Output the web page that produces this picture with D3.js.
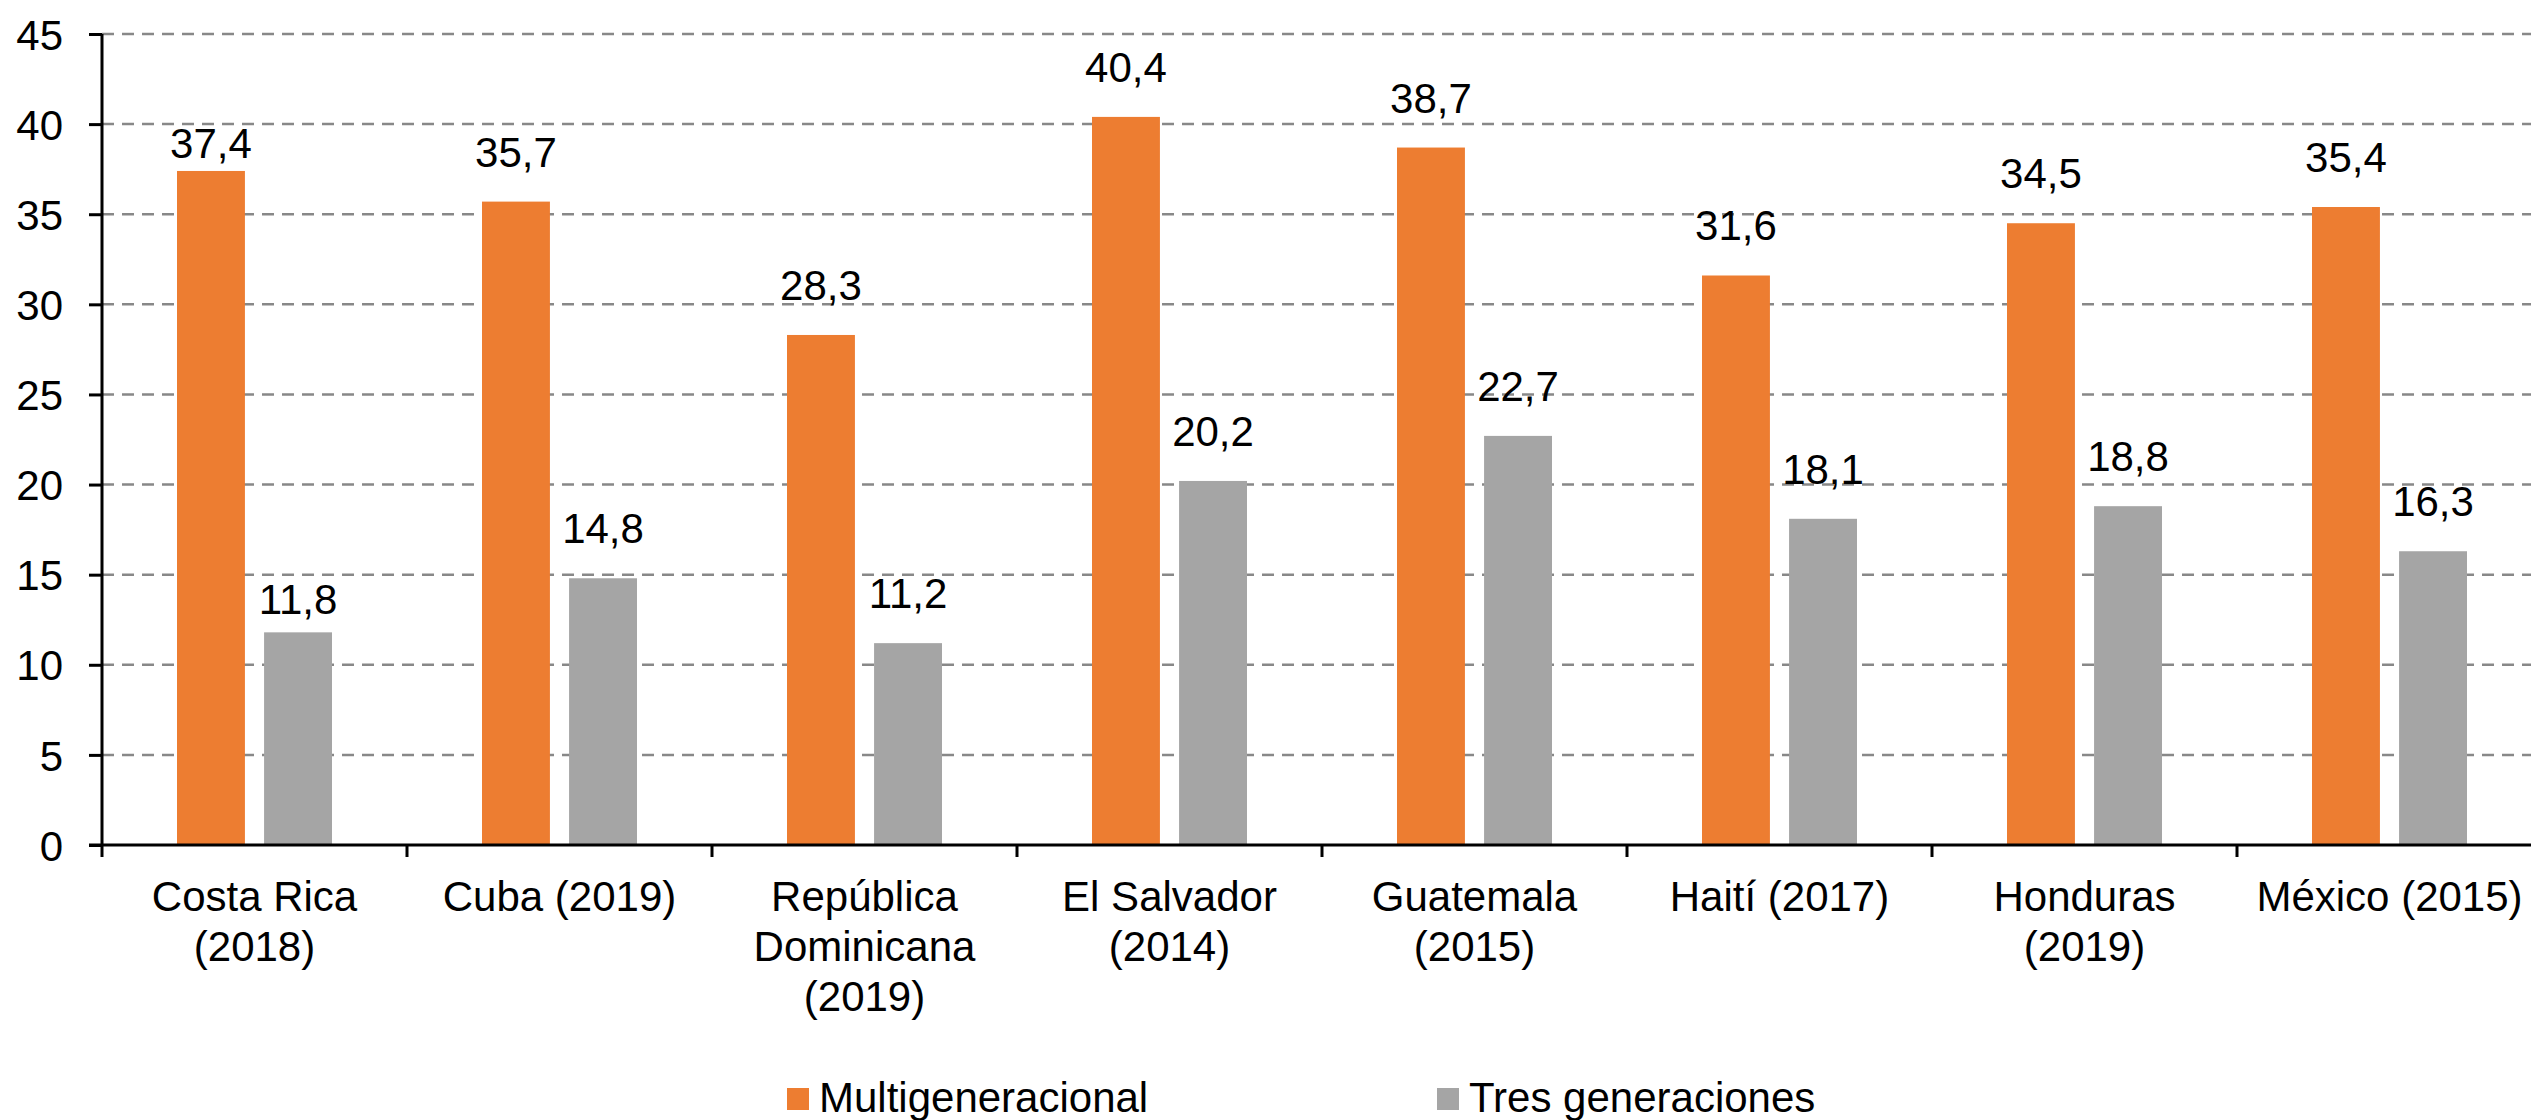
<!DOCTYPE html>
<html>
<head>
<meta charset="utf-8">
<script src="https://cdn.jsdelivr.net/npm/d3@7"></script>
<style>
  html, body { margin: 0; padding: 0; background: #fff; overflow: hidden; }
  svg { display: block; font-family: "Liberation Sans", Arial, sans-serif; }
</style>
</head>
<body>
<svg id="chart" width="2531" height="1120"></svg>
<script>
const categories = [
  ["Costa Rica", "(2018)"],
  ["Cuba (2019)"],
  ["República", "Dominicana", "(2019)"],
  ["El Salvador", "(2014)"],
  ["Guatemala", "(2015)"],
  ["Haití (2017)"],
  ["Honduras", "(2019)"],
  ["México (2015)"]
];
const seriesNames = ["Multigeneracional", "Tres generaciones"];
const multigeneracional = [37.4, 35.7, 28.3, 40.4, 38.7, 31.6, 34.5, 35.4];
const tresGeneraciones = [11.8, 14.8, 11.2, 20.2, 22.7, 18.1, 18.8, 16.3];
const yTicks = [0, 5, 10, 15, 20, 25, 30, 35, 40, 45];
const colors = ["#ED7D31", "#A5A5A5"];

(function () {
const svg = d3.select("#chart");
const W = 2531;
const plotLeft = 102, bandW = 305, plotTop = 34, plotBottom = 845;
const plotRight = plotLeft + bandW * categories.length;
const FS = 42;
// label gap (baseline above bar top); the first group's labels sit closer in the original
const defaultGap = 35;
const gapOverride = { "0-0": 13, "0-1": 18 };

const catKeys = categories.map(c => c.join(" "));
const x = d3.scaleBand().domain(catKeys).range([plotLeft, plotRight]).paddingInner(0).paddingOuter(0);
const y = d3.scaleLinear().domain([0, 45]).range([plotBottom, plotTop]);
const inner = d3.scaleBand().domain(seriesNames).range([75, bandW - 75]).paddingInner(0.22);

// gridlines
svg.append("g").selectAll("line").data(yTicks.filter(t => t > 0)).join("line")
  .attr("x1", plotLeft).attr("x2", W)
  .attr("y1", d => y(d)).attr("y2", d => y(d))
  .attr("stroke", "#888888").attr("stroke-width", 2.5)
  .attr("stroke-dasharray", "12 8");

// bars
const data = [multigeneracional, tresGeneraciones];
const g = svg.append("g");
catKeys.forEach((k, i) => {
  seriesNames.forEach((s, j) => {
    const v = data[j][i];
    const bx = x(k) + inner(s);
    const gap = gapOverride[i + "-" + j] !== undefined ? gapOverride[i + "-" + j] : defaultGap;
    g.append("rect")
      .attr("x", bx).attr("y", y(v))
      .attr("width", inner.bandwidth()).attr("height", y(0) - y(v))
      .attr("fill", colors[j]);
    g.append("text")
      .attr("x", bx + inner.bandwidth() / 2).attr("y", y(v) - gap)
      .attr("text-anchor", "middle").attr("font-size", FS).attr("fill", "#000")
      .text(v.toFixed(1).replace(".", ","));
  });
});

// y axis
const yAxis = svg.append("g").attr("transform", `translate(${plotLeft},0)`)
  .call(d3.axisLeft(y).tickValues(yTicks).tickSize(13).tickPadding(26));
yAxis.select(".domain").attr("stroke", "#000").attr("stroke-width", 3)
  .attr("d", `M0,${plotBottom}V${plotTop}`);
yAxis.selectAll(".tick line").attr("stroke", "#000").attr("stroke-width", 3);
yAxis.selectAll(".tick text").attr("font-size", FS).attr("fill", "#000")
  .attr("font-family", "Liberation Sans, Arial, sans-serif").attr("dy", "0.36em");

// x axis
const xTickPos = d3.range(categories.length + 1).map(i => plotLeft + i * bandW);
const xAxis = svg.append("g");
xAxis.append("line").attr("x1", plotLeft - 13).attr("x2", W)
  .attr("y1", plotBottom).attr("y2", plotBottom).attr("stroke", "#000").attr("stroke-width", 3);
xAxis.selectAll("line.t").data(xTickPos).join("line").attr("class", "t")
  .attr("x1", d => d).attr("x2", d => d)
  .attr("y1", plotBottom).attr("y2", plotBottom + 12)
  .attr("stroke", "#000").attr("stroke-width", 3);
categories.forEach((lines, i) => {
  const cx = x(catKeys[i]) + x.bandwidth() / 2;
  const t = xAxis.append("text").attr("text-anchor", "middle")
    .attr("font-size", FS).attr("fill", "#000");
  lines.forEach((ln, li) => {
    t.append("tspan").attr("x", cx).attr("y", 911 + li * 50).text(ln);
  });
});

// legend
const legend = svg.append("g");
const legX = [787, 1437];
seriesNames.forEach((s, j) => {
  legend.append("rect").attr("x", legX[j]).attr("y", 1088)
    .attr("width", 22).attr("height", 22).attr("fill", colors[j]);
  legend.append("text").attr("x", legX[j] + 32).attr("y", 1112)
    .attr("font-size", FS).attr("fill", "#000").text(s);
});
})();
</script>
</body>
</html>
